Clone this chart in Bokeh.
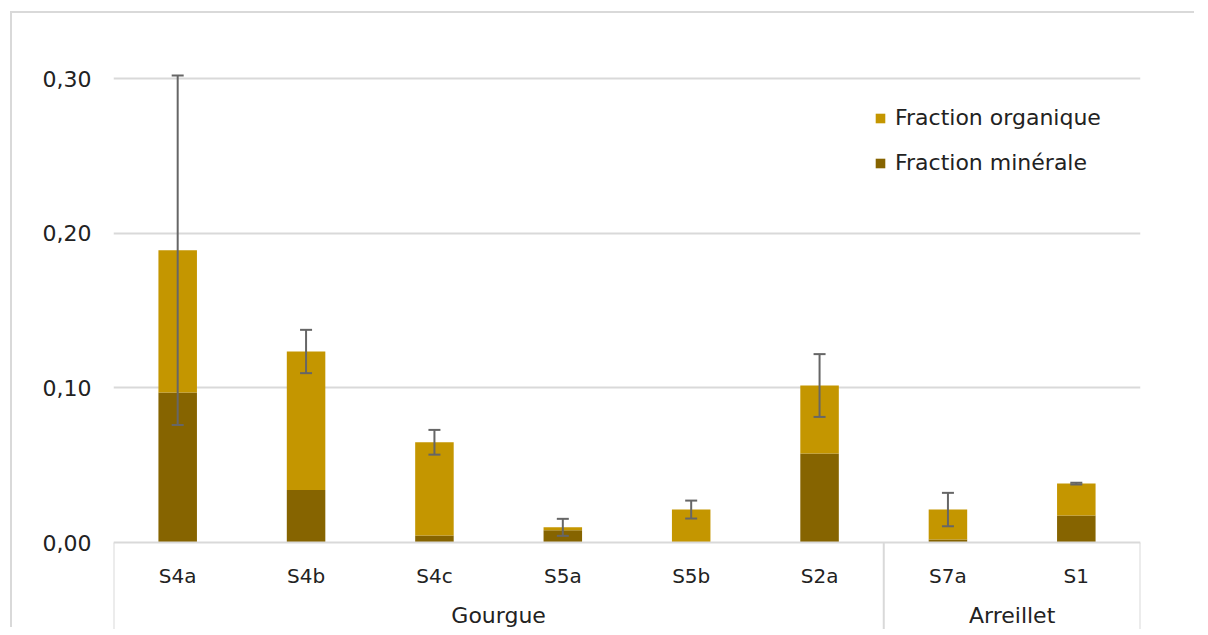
from bokeh.plotting import figure
from bokeh.models import (FactorRange, FixedTicker, CustomJSTickFormatter, Legend, LegendItem,
                          Whisker, ColumnDataSource, TeeHead)
from bokeh.embed import file_html
from bokeh.resources import INLINE
from bokeh.core.properties import value

# ---- data ----
groups = ["Gourgue", "Gourgue", "Gourgue", "Gourgue", "Gourgue", "Gourgue", "Arreillet", "Arreillet"]
group_names = ["Gourgue", "Arreillet"]
samples = ["S4a", "S4b", "S4c", "S5a", "S5b", "S2a", "S7a", "S1"]
mineral = [0.097, 0.034, 0.0045, 0.008, 0.0, 0.0575, 0.002, 0.0175]
total = [0.189, 0.1235, 0.0648, 0.0098, 0.0213, 0.1015, 0.0213, 0.0381]
error = [0.113, 0.014, 0.008, 0.0055, 0.0058, 0.0203, 0.0108, 0.0006]
y_ticks = [0.0, 0.10, 0.20, 0.30]

organic = [t - m for t, m in zip(total, mineral)]
factors = list(zip(groups, samples))

C_ORG = "#C49600"
C_MIN = "#866400"
GRID = "#d9d9d9"
TXT = "#222222"
FONT = "DejaVu Sans"

x_range = FactorRange(factors=factors, group_padding=0, factor_padding=0, range_padding=0)
p = figure(x_range=x_range, y_range=(-0.05625, 0.3097), width=1188, height=616,
           output_backend="svg", toolbar_location=None,
           min_border_left=101, min_border_right=60, min_border_top=50, min_border_bottom=0)
p.outline_line_color = None
# chart-area border: only its top and left edges are inside the window
p.styles = {"margin-left": "12px", "margin-top": "13px", "vertical-align": "top",
            "box-shadow": "-2px -2px 0px 0px #d9d9d9",
            "clip-path": "inset(-3px 6px -3px -3px)"}

src = ColumnDataSource(dict(x=factors, mineral=mineral, organic=organic,
                            upper=[t + e for t, e in zip(total, error)],
                            lower=[t - e for t, e in zip(total, error)]))

r = p.vbar_stack(["mineral", "organic"], x="x", width=0.3, source=src,
                 color=[C_MIN, C_ORG], line_color=None)

w = Whisker(base="x", upper="upper", lower="lower", source=src,
            line_color="#666666", line_width=2, level="overlay",
            upper_head=TeeHead(size=12, line_color="#666666", line_width=2),
            lower_head=TeeHead(size=12, line_color="#666666", line_width=2))
p.add_layout(w)

# separators below the axis
sep_x = [(groups[0], samples[0], -0.5)]
for i in range(1, len(groups)):
    if groups[i] != groups[i - 1]:
        sep_x.append((groups[i], samples[i], -0.5))
sep_x.append((groups[-1], samples[-1], 0.5))
p.segment(x0=sep_x, x1=sep_x, y0=[0] * len(sep_x), y1=[-0.07] * len(sep_x),
          line_color=GRID, line_width=2)

# group labels
p.text(x=group_names, y=[-0.0472] * len(group_names), text=group_names,
       text_font=value(FONT), text_font_size="22px", text_color=TXT,
       text_align="center", text_baseline="middle")

# y axis
p.yaxis.ticker = FixedTicker(ticks=y_ticks)
p.yaxis.formatter = CustomJSTickFormatter(code="return tick.toFixed(2).replace('.', ',');")
p.yaxis.axis_line_color = None
p.yaxis.major_tick_line_color = None
p.yaxis.minor_tick_line_color = None
p.yaxis.major_tick_out = 0
p.yaxis.major_tick_in = 0
p.yaxis.minor_tick_out = 0
p.yaxis.major_label_standoff = 22
p.yaxis.major_label_text_font = FONT
p.yaxis.major_label_text_font_size = "22px"
p.yaxis.major_label_text_color = TXT
p.ygrid.ticker = FixedTicker(ticks=y_ticks[1:])
p.ygrid.grid_line_color = GRID
p.ygrid.grid_line_width = 2
p.xgrid.grid_line_color = None

# x axis
xa = p.xaxis[0]
xa.fixed_location = 0
xa.axis_line_color = GRID
xa.axis_line_width = 2
xa.major_tick_line_color = None
xa.minor_tick_line_color = None
xa.major_label_standoff = 15
xa.major_label_text_font = FONT
xa.major_label_text_font_size = "20px"
xa.major_label_text_color = TXT
xa.group_text_color = None
xa.group_text_font_size = "0px"
xa.separator_line_color = None

legend = Legend(items=[LegendItem(label="Fraction organique", renderers=[r[1]]),
                       LegendItem(label="Fraction minérale", renderers=[r[0]])])
legend.label_text_font = FONT
legend.label_text_font_size = "22px"
legend.label_text_color = TXT
legend.glyph_width = 12
legend.glyph_height = 12
legend.label_height = 29
legend.label_standoff = 9
legend.spacing = 16
legend.padding = 0
legend.margin = 0
legend.border_line_color = None
legend.background_fill_alpha = 0
legend.location = (761, 452)
p.add_layout(legend)

open("out.html", "w").write(file_html(p, INLINE))
